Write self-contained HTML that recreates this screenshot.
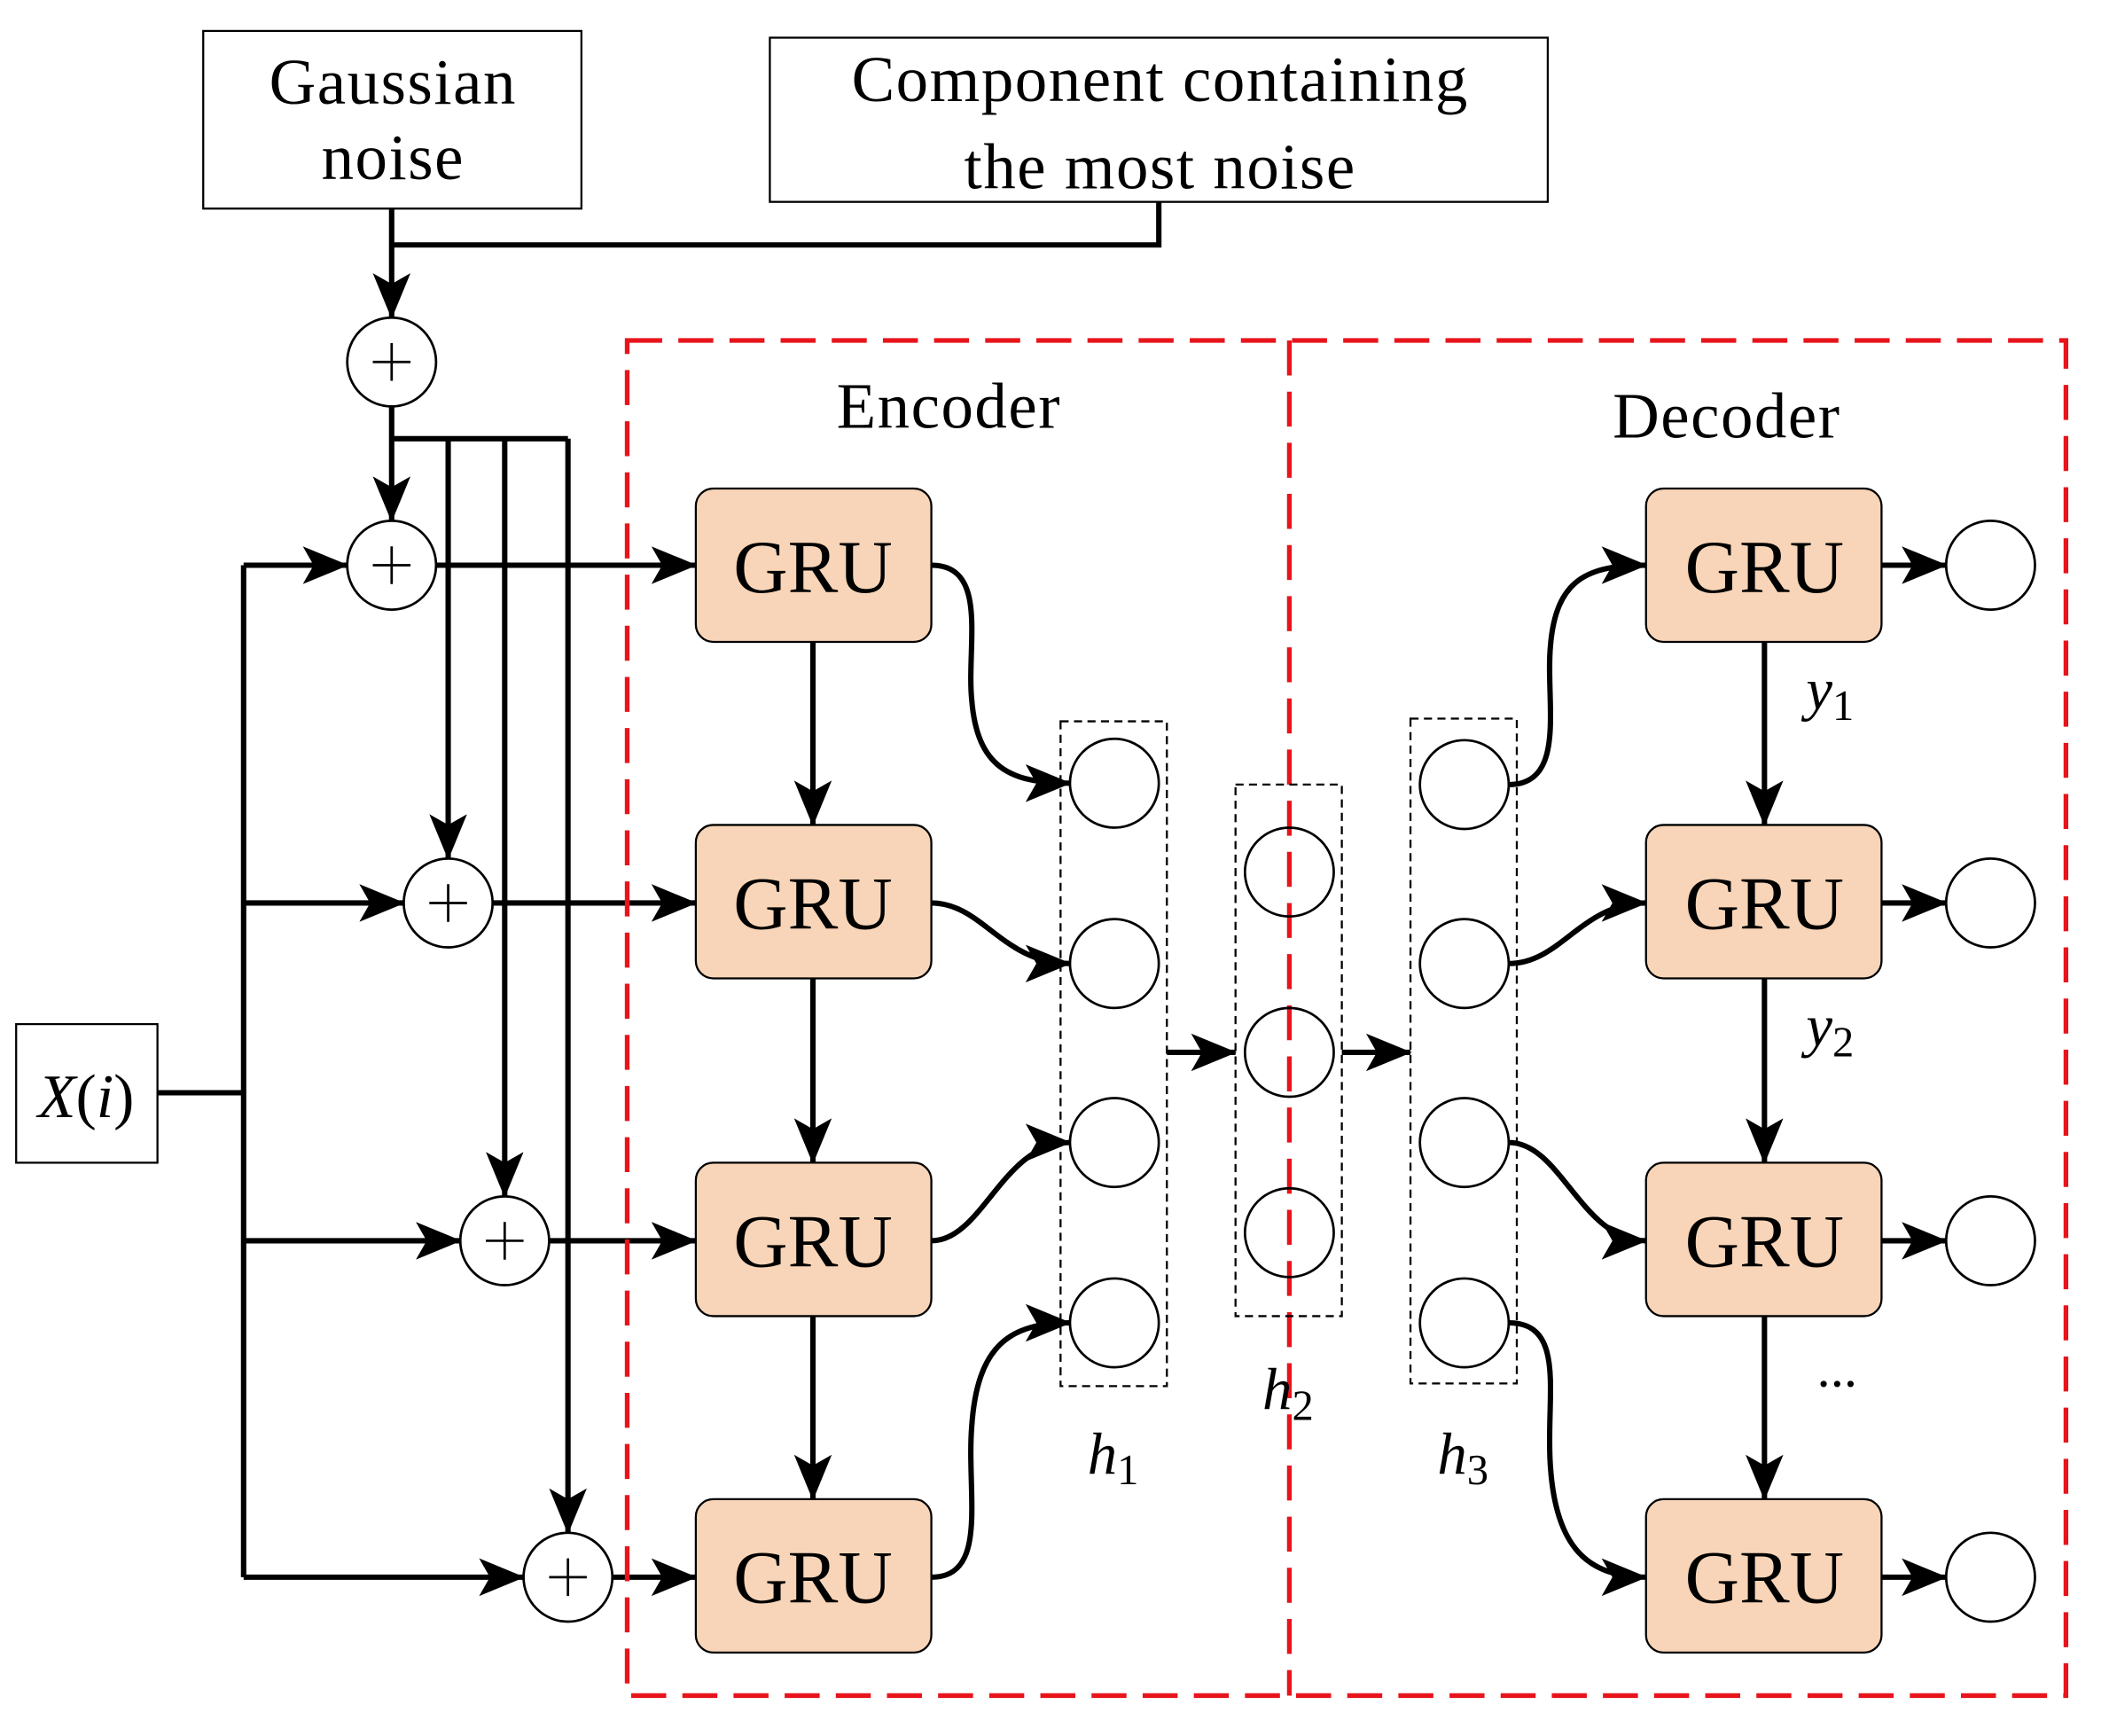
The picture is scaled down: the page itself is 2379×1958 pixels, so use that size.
<!DOCTYPE html>
<html><head><meta charset="utf-8"><style>html,body{margin:0;padding:0;background:#fff}svg{display:block}</style></head>
<body>
<svg width="2379" height="1958" viewBox="0 0 1567 1290" preserveAspectRatio="none" xmlns="http://www.w3.org/2000/svg">
<defs>
<marker id="b" viewBox="0 0 34 28" refX="33" refY="14" markerWidth="34" markerHeight="28" orient="auto" markerUnits="userSpaceOnUse">
<path d="M0,0 L34,14 L0,28 L8,14 Z" fill="#000"/>
</marker>
</defs>
<g font-family="Liberation Serif, serif" fill="#000">
<rect x="151" y="23" width="281" height="132" fill="#fff" stroke="#000" stroke-width="1.5"/>
<text x="292" y="77" font-size="48" text-anchor="middle" letter-spacing="1">Gaussian</text>
<text x="292" y="133" font-size="48" text-anchor="middle" letter-spacing="1">noise</text>
<rect x="572" y="28" width="578" height="122" fill="#fff" stroke="#000" stroke-width="1.5"/>
<text x="862" y="75" font-size="48" text-anchor="middle" letter-spacing="1">Component containing</text>
<text x="862" y="140" font-size="48" text-anchor="middle" letter-spacing="1">the most noise</text>
</g>
<g stroke="#000" stroke-width="4" fill="none">
<path d="M291,155 V236" marker-end="url(#b)"/>
<path d="M861,150 V182 H291"/>
<path d="M291,302 V387" marker-end="url(#b)"/>
<path d="M291,326 H422"/>
<path d="M333,326 V638" marker-end="url(#b)"/>
<path d="M375,326 V889" marker-end="url(#b)"/>
<path d="M422,326 V1139" marker-end="url(#b)"/>
<path d="M117,812 H181"/>
<path d="M181,420 V1172"/>
<path d="M181,420 H258" marker-end="url(#b)"/>
<path d="M181,671 H300" marker-end="url(#b)"/>
<path d="M181,922 H342" marker-end="url(#b)"/>
<path d="M181,1172 H389" marker-end="url(#b)"/>
<path d="M324,420 H517" marker-end="url(#b)"/>
<path d="M366,671 H517" marker-end="url(#b)"/>
<path d="M408,922 H517" marker-end="url(#b)"/>
<path d="M455,1172 H517" marker-end="url(#b)"/>
<path d="M604,477 V613" marker-end="url(#b)"/>
<path d="M604,727 V864" marker-end="url(#b)"/>
<path d="M604,978 V1114" marker-end="url(#b)"/>
<path d="M1311,477 V613" marker-end="url(#b)"/>
<path d="M1311,727 V864" marker-end="url(#b)"/>
<path d="M1311,978 V1114" marker-end="url(#b)"/>
<path d="M867,782 H918" marker-end="url(#b)"/>
<path d="M997,782 H1048" marker-end="url(#b)"/>
<path d="M1398,420 H1446" marker-end="url(#b)"/>
<path d="M1398,671 H1446" marker-end="url(#b)"/>
<path d="M1398,922 H1446" marker-end="url(#b)"/>
<path d="M1398,1172 H1446" marker-end="url(#b)"/>
<path d="M692,420 C735,420 718,480 722,520 C726,570 750,582 795,582" marker-end="url(#b)"/>
<path d="M692,671 C730,671 745,716 795,716" marker-end="url(#b)"/>
<path d="M692,922 C730,922 745,849 795,849" marker-end="url(#b)"/>
<path d="M692,1172 C735,1172 718,1110 722,1060 C726,1000 750,983 795,983" marker-end="url(#b)"/>
<path d="M1121,583 C1165,583 1148,520 1152,480 C1156,430 1180,420 1223,420" marker-end="url(#b)"/>
<path d="M1121,716 C1160,716 1175,671 1223,671" marker-end="url(#b)"/>
<path d="M1121,849 C1160,849 1175,922 1223,922" marker-end="url(#b)"/>
<path d="M1121,983 C1165,983 1148,1040 1152,1090 C1156,1150 1180,1172 1223,1172" marker-end="url(#b)"/>
</g>
<g stroke="#e8141b" stroke-width="3.5" fill="none" stroke-dasharray="26,12">
<rect x="466" y="253" width="1069" height="1007"/>
<path d="M958,253 V1260"/>
</g>
<g stroke="#000" stroke-width="1.5" fill="none" stroke-dasharray="6,4">
<rect x="788" y="536" width="79" height="494"/>
<rect x="918" y="583" width="79" height="395"/>
<rect x="1048" y="534" width="79" height="494"/>
</g>
<g stroke="#000" stroke-width="1.8" fill="#fff">
<circle cx="291" cy="269" r="33"/><circle cx="291" cy="420" r="33"/><circle cx="333" cy="671" r="33"/><circle cx="375" cy="922" r="33"/><circle cx="422" cy="1172" r="33"/>
<circle cx="828" cy="582" r="33"/><circle cx="828" cy="716" r="33"/><circle cx="828" cy="849" r="33"/><circle cx="828" cy="983" r="33"/>
<circle cx="1088" cy="583" r="33"/><circle cx="1088" cy="716" r="33"/><circle cx="1088" cy="849" r="33"/><circle cx="1088" cy="983" r="33"/>
<circle cx="1479" cy="420" r="33"/><circle cx="1479" cy="671" r="33"/><circle cx="1479" cy="922" r="33"/><circle cx="1479" cy="1172" r="33"/>
</g>
<g stroke="#000" stroke-width="1.8" fill="none">
<circle cx="958" cy="648" r="33"/><circle cx="958" cy="782" r="33"/><circle cx="958" cy="916" r="33"/>
</g>
<g stroke="#000" stroke-width="1.8">
<path d="M277,269h28M291,255v28"/><path d="M277,420h28M291,406v28"/><path d="M319,671h28M333,657v28"/><path d="M361,922h28M375,908v28"/><path d="M408,1172h28M422,1158v28"/>
</g>
<g stroke="#000" stroke-width="1.5" fill="#f8d5b8">
<rect x="517" y="363" width="175" height="114" rx="13"/><rect x="517" y="613" width="175" height="114" rx="13"/><rect x="517" y="864" width="175" height="114" rx="13"/><rect x="517" y="1114" width="175" height="114" rx="13"/>
<rect x="1223" y="363" width="175" height="114" rx="13"/><rect x="1223" y="613" width="175" height="114" rx="13"/><rect x="1223" y="864" width="175" height="114" rx="13"/><rect x="1223" y="1114" width="175" height="114" rx="13"/>
</g>
<g font-family="Liberation Serif, serif" font-size="56" text-anchor="middle" fill="#000">
<text x="604" y="440">GRU</text><text x="604" y="690">GRU</text><text x="604" y="941">GRU</text><text x="604" y="1191">GRU</text>
<text x="1311" y="440">GRU</text><text x="1311" y="690">GRU</text><text x="1311" y="941">GRU</text><text x="1311" y="1191">GRU</text>
</g>
<g font-family="Liberation Serif, serif" fill="#000">
<rect x="12" y="761" width="105" height="103" fill="#fff" stroke="#000" stroke-width="1.5"/>
<text x="64" y="830" font-size="46" text-anchor="middle"><tspan font-style="italic">X</tspan>(<tspan font-style="italic">i</tspan>)</text>
<text x="705" y="318" font-size="48" text-anchor="middle" letter-spacing="1">Encoder</text>
<text x="1283" y="325" font-size="48" text-anchor="middle" letter-spacing="1">Decoder</text>
<text x="808" y="1095" font-size="44" font-style="italic">h<tspan font-size="32" font-style="normal" dy="8">1</tspan></text>
<text x="938" y="1047" font-size="44" font-style="italic">h<tspan font-size="32" font-style="normal" dy="8">2</tspan></text>
<text x="1068" y="1095" font-size="44" font-style="italic">h<tspan font-size="32" font-style="normal" dy="8">3</tspan></text>
<text x="1342" y="527" font-size="44" font-style="italic">y<tspan font-size="32" font-style="normal" dy="8">1</tspan></text>
<text x="1342" y="777" font-size="44" font-style="italic">y<tspan font-size="32" font-style="normal" dy="8">2</tspan></text>
<text x="1365" y="1030" font-size="40" text-anchor="middle">...</text>
</g>
</svg>
</body></html>
